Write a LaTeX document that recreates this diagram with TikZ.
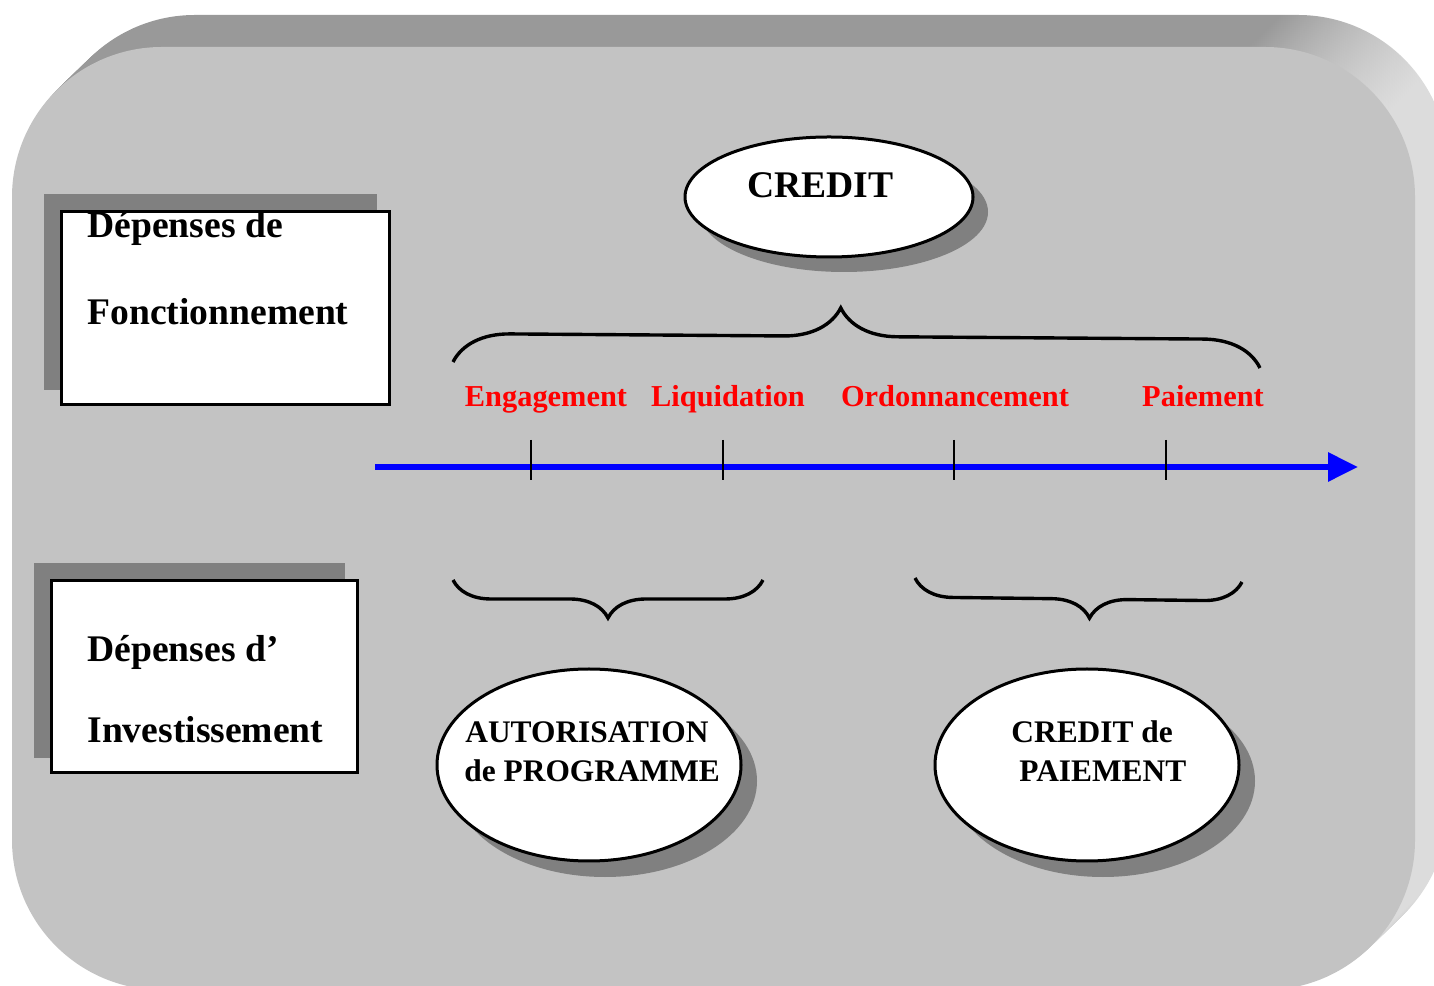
\documentclass[tikz,border=0pt]{standalone}
\usepackage{fontspec}
\setmainfont{Liberation Serif}
\usetikzlibrary{arrows.meta,decorations.pathreplacing,shapes.geometric}

\definecolor{facegray}{HTML}{C3C3C3}
\definecolor{bevtop}{HTML}{999999}
\definecolor{bevside}{HTML}{DCDCDC}
\definecolor{shadowgray}{HTML}{808080}
\pgfdeclarehorizontalshading{bevelshade}{100bp}{color(0bp)=(bevtop); color(69bp)=(bevtop); color(74bp)=(bevside); color(100bp)=(bevside)}

\begin{document}
\begin{tikzpicture}[x=0.5pt, y=0.5pt,
    frontbox/.style={rectangle, draw, line width=1.5pt, fill=white, inner sep=0pt},
    shadowbox/.style={rectangle, fill=shadowgray, inner sep=0pt},
    oval/.style={ellipse, draw, line width=1.5pt, fill=white, inner sep=0pt},
    ovalshadow/.style={ellipse, fill=shadowgray, inner sep=0pt},
    bigtext/.style={font=\fontsize{18.8}{22}\selectfont\bfseries, inner sep=0pt, anchor=base west},
    ovaltext/.style={font=\fontsize{15.7}{18}\selectfont\bfseries, inner sep=0pt, anchor=base west},
    phase/.style={text=red, font=\fontsize{15.2}{18}\selectfont\bfseries, inner sep=0pt, anchor=base},
    curly/.style={line width=1.7pt, decorate},
    timeline/.style={blue, line width=3pt, -{Triangle[length=15pt, width=14pt]}},
    tick/.style={line width=1pt}]
  \useasboundingbox (0,0) rectangle (1434,985);
  \clip (0,0) rectangle (1434,985);

  % raised panel
  \foreach \i in {16,...,1}
    \shade[shading=bevelshade, rounded corners=75pt]
      ({12+\i*33/16},{-5+\i*32/16}) rectangle ({1415+\i*33/16},{938+\i*32/16});
  \fill[facegray, rounded corners=75pt] (12,-5) rectangle (1415,938);

  % left boxes
  \node[shadowbox, minimum width=166.5pt, minimum height=98pt] (fonc-sh) at (210.5,693) {};
  \node[frontbox, minimum width=164pt, minimum height=96.5pt] (fonc) at (225,676.5) {};
  \node[bigtext] (fonc-a) at (87,747) {Dépenses de};
  \node[bigtext] (fonc-b) at (87,660) {Fonctionnement};

  \node[shadowbox, minimum width=155.5pt, minimum height=97.5pt] (inv-sh) at (189.5,324.5) {};
  \node[frontbox, minimum width=153pt, minimum height=96pt] (inv) at (204,308) {};
  \node[bigtext] (inv-a) at (87,323) {Dépenses d’};
  \node[bigtext] (inv-b) at (87,242) {Investissement};

  % ovals
  \node[ovalshadow, minimum width=144pt, minimum height=60pt] (credit-sh) at (844,773) {};
  \node[oval, minimum width=144pt, minimum height=60pt] (credit) at (829,788) {};
  \node[bigtext, anchor=base] (credit-t) at (820.5,787) {CREDIT};

  \node[ovalshadow, minimum width=152pt, minimum height=96pt] (ap-sh) at (605,204) {};
  \node[oval, minimum width=152pt, minimum height=96pt] (ap) at (589,220) {};
  \node[ovaltext] (ap-a) at (465,242) {AUTORISATION};
  \node[ovaltext] (ap-b) at (464,203) {de PROGRAMME};

  \node[ovalshadow, minimum width=152pt, minimum height=96pt] (cp-sh) at (1103,204) {};
  \node[oval, minimum width=152pt, minimum height=96pt] (cp) at (1087,220) {};
  \node[ovaltext] (cp-a) at (1011,242) {CREDIT de};
  \node[ovaltext] (cp-b) at (1019,203) {PAIEMENT};

  % braces
  \draw[curly, decoration={brace, amplitude=28.5pt, aspect=0.48}] (453,623) -- (1260,617);
  \draw[curly, decoration={brace, amplitude=19pt, aspect=0.5}] (763,405) -- (453,405);
  \draw[curly, decoration={brace, amplitude=19pt, aspect=0.465}] (1242,403) -- (915,407);

  % phases
  \foreach \x/\t [count=\i] in {546/Engagement, 728/Liquidation, 955/Ordonnancement, 1203/Paiement}
    \node[phase] (ph\i) at (\x,578) {\t};

  \coordinate (tl-start) at (375,518);
  \coordinate (tl-end) at (1358,518);
  \draw[timeline] (tl-start) -- (tl-end);
  \foreach \x in {531,723,954,1166}
    \draw[tick] (\x,545) -- (\x,505);
\end{tikzpicture}
\end{document}
